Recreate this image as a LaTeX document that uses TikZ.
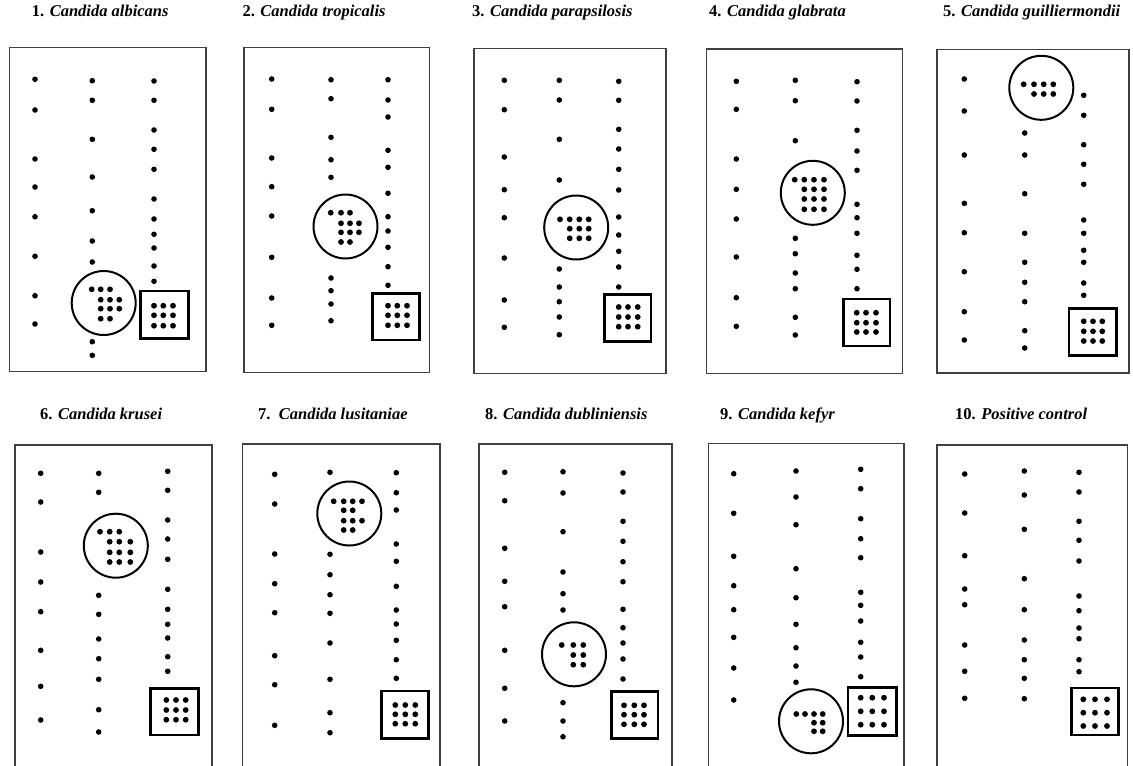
\documentclass[tikz,border=0pt]{standalone}
\usepackage{fontspec}
\setmainfont{Liberation Serif}
% a vertical run of spots at abscissa #1, ordinates #2
\newcommand\spotcol[2]{\foreach \yy in {#2}{\fill (#1,\yy) circle[radius=2.8];}}
% a list of spots given as x/y pairs
\newcommand\spots[1]{\foreach \xx/\yy in {#1}{\fill (\xx,\yy) circle[radius=2.9];}}
% 3x3 spots inside a plate
\newcommand\gridspots[2]{\foreach \xx in {#1}{\foreach \yy in {#2}{\fill (\xx,\yy) circle[radius=2.9];}}}
\begin{document}
\begin{tikzpicture}[x=1pt,y=-1pt,
  frame/.style={draw=black!75,line width=1.3pt},
  ring/.style={draw=black,line width=2pt},
  plate/.style={draw=black,line width=2.6pt},
  title/.style={anchor=base west,inner sep=0pt,font=\fontsize{16.5}{18}\selectfont\bfseries}]
\useasboundingbox (0,0) rectangle (1133,766);
\clip (0,0) rectangle (1133,766);

% ---------- titles ----------
\node[title] (t1)  at (31.7,16.5)  {1. \itshape Candida albicans};
\node[title] (t2)  at (242.3,16.5) {2. \itshape Candida tropicalis};
\node[title] (t3)  at (472,16.5)   {3. \itshape Candida parapsilosis};
\node[title] (t4)  at (709,16.5)   {4. \itshape Candida glabrata};
\node[title] (t5)  at (943,16.5)   {5. \itshape Candida guilliermondii};
\node[title] (t6)  at (40,419)     {6. \itshape Candida krusei};
\node[title] (t7)  at (258,419)    {7.\ \ \itshape Candida lusitaniae};
\node[title] (t8)  at (485,419)    {8. \itshape Candida dubliniensis};
\node[title] (t9)  at (720,419)    {9. \itshape Candida kefyr};
\node[title] (t10) at (955,419)    {10. \itshape Positive control};

% ---------- 1 ----------
\draw[frame] (9.3,47.3) rectangle (206,371.7);
\spotcol{35}{79.3,110,159,187,216.7,256.3,295.7,324}
\spotcol{92.3}{80.7,100.3,139.3,177,210.7,241,262,341.7,355.3}
\spotcol{154}{81,100.3,130,149.3,169.3,199,219,234.3,248,266,281.3}
\draw[ring] (103.7,303) circle[radius=32];
\spots{91.7/289.3,100.7/289.3,110/289.3,100.7/299.7,110/299.7,119.3/299.7,100.7/308.7,110/308.7,119.3/308.7,100.7/318.7,110/318.7}
\draw[plate] (140.3,291) rectangle (188.3,338.3);
\gridspots{154,163.3,173}{305.7,315.3,325.7}

% ---------- 2 ----------
\draw[frame] (244,47.3) rectangle (429.3,372.3);
\spotcol{271.7}{79,109.3,158,186.7,216,257.3,298,325.3}
\spotcol{331}{79.7,98.7,137.3,159.7,177.3,278,290.7,304,320.7}
\spotcol{388}{79.7,100,117,150.3,167.3,193.3,216.7,231,247.3,266.7,285.3}
\draw[ring] (345.5,226.5) circle[radius=32];
\spots{330.7/212.7,341/212.7,350/212.7,341/223.3,350/223.3,359/223.3,341/232.3,350/232.3,359/232.3,341/242,350/242}
\draw[plate] (372.3,293.3) rectangle (419.3,340);
\gridspots{388,397.3,407}{305.7,315.3,325.3}

% ---------- 3 ----------
\draw[frame] (474,48.3) rectangle (666,373.3);
\spotcol{504.3}{80.3,109.7,157,189.7,217.7,258,300,327.3}
\spotcol{559.3}{80.3,100,139.3,180,269,287,301.7,317,334.7}
\spotcol{618.7}{81.3,100.3,129.3,149,169.3,190,217,235,251.3,267,287}
\draw[ring] (576.2,227.5) circle[radius=32];
\spots{560/219.3,569.7/219.3,579.3/219.3,588.7/219.3,569.7/228.7,579.3/228.7,588.7/228.7,569.7/238.3,579.3/238.3,588.7/238.3}
\draw[plate] (604.3,294.3) rectangle (651,341.7);
\gridspots{618.7,628,637.7}{307,317,326.7}

% ---------- 4 ----------
\draw[frame] (706.7,49) rectangle (902.7,373.3);
\spotcol{736.3}{81.3,109.3,159,189.3,219,257,297.7,326.3}
\spotcol{795.3}{80.3,100.7,140.7,238.3,253.7,273,288.7,317.3,335}
\spotcol{857}{81.7,101,130.3,151,170.3,204.3,217.7,233.3,255.3,269.3,288.7}
\draw[ring] (812.8,192.8) circle[radius=32];
\spots{794.7/179.7,804.3/179.7,814/179.7,824/179.7,804.3/189.3,814/189.3,824/189.3,804.3/199,814/199,824/199,804.3/209.3,814/209.3,824/209.3}
\draw[plate] (843.3,299) rectangle (890,346);
\gridspots{856.7,866,876}{312.7,322.7,332}

% ---------- 5 ----------
\draw[frame] (937,49.3) rectangle (1129,373);
\spotcol{964.3}{79,111,155,203.3,232.7,271.7,311.7,340}
\spotcol{1024.7}{133,155,193.7,233.3,262.3,282.3,301.7,330.7,348}
\spotcol{1083.7}{95.3,115.3,144.7,164.3,184.3,220,233.3,250.3,262.3,283,295.3}
\draw[ring] (1041.3,87.8) circle[radius=32];
\spots{1023.7/84.3,1034/84.3,1043.7/84.3,1053.3/84.3,1034/94,1043.7/94,1053.3/94}
\draw[plate] (1069,308.7) rectangle (1116.7,355.7);
\gridspots{1083.7,1093,1102.3}{321.3,331.3,341}

% ---------- 6 ----------
\draw[frame] (15,445) rectangle (212,790);
\spotcol{40.7}{473.3,502,552,582,611.7,650.3,686.3,720}
\spotcol{98.7}{473.3,492.3,595.3,614.3,639,658.7,679.3,709.7,732}
\spotcol{167.7}{471.3,490.3,520,539,559.3,589.3,609.3,624.3,638,656.7,671.3}
\draw[ring] (115.8,545.7) circle[radius=32];
\spots{100/531.7,109.7/531.7,119.3/531.7,109.7/541.7,119.3/541.7,130.3/541.7,109.7/552.3,119.3/552.3,130.3/552.3,109.7/562,119.3/562,130.3/562}
\draw[plate] (150.7,688.3) rectangle (198.3,735);
\gridspots{166.3,176,185.7}{700,710,719.7}

% ---------- 7 ----------
\draw[frame] (242.3,444) rectangle (440,790);
\spotcol{274.7}{474.3,504,554,583.7,612.7,655.7,684.7,725.3}
\spotcol{330}{472.3,554.3,574.7,594.7,613.3,643,679.3,712.7,732.7}
\spotcol{396.3}{472.7,492.7,510,544,561.3,586.3,610,624,640.3,659.7,678.3}
\draw[ring] (349.3,513.5) circle[radius=32];
\spots{333.7/501.3,343.7/501.3,352.7/501.3,362/501.3,343.7/510.3,352.7/510.3,343.7/520.7,352.7/520.7,362/520.7,343.7/530,352.7/530}
\draw[plate] (381.7,691) rectangle (428.7,738.3);
\gridspots{395.3,405.3,415.3}{705,714.3,723.7}

% ---------- 8 ----------
\draw[frame] (479,444) rectangle (672,790);
\spotcol{504.7}{472.3,500.7,548.3,581.3,606.7,650.3,688.3,721}
\spotcol{563}{471.7,493,531.7,572,593.7,610,702.7,721,736.7}
\spotcol{623}{473,492,521.3,541.3,561.7,581.7,609.3,627.7,643,659,679}
\draw[ring] (574,654.3) circle[radius=32];
\spots{561.7/645,573.3/645,583.3/645,573.3/655,583.3/655,573.3/664.7,583.3/664.7}
\draw[plate] (611.3,691.7) rectangle (658,738.3);
\gridspots{624,634.3,644}{705.3,714.7,724.3}

% ---------- 9 ----------
\draw[frame] (708.3,443.3) rectangle (904,790);
\spotcol{733.7}{473.7,513.3,556.3,585.7,609.7,637.3,668,700}
\spotcol{796}{471,497,524.7,568.7,597.7,624.3,647.7,666,682.3}
\spotcol{860.7}{469.3,488.7,518.7,538.7,557.7,592.3,605.3,621,642.3,657,676.7}
\draw[ring] (811,721.3) circle[radius=32];
\spots{796.3/714,805/714,814/714,822.7/714,814/722.7,822.7/722.7,814/731.3,822.7/731.3}
\draw[plate] (848,687.7) rectangle (896.3,735.3);
\gridspots{860.7,872.3,884}{697.7,711.3,724.7}

% ---------- 10 ----------
\draw[frame] (937,445) rectangle (1127.7,790);
\spotcol{964.7}{474,513,555.7,589,604.7,645,671.3,698.3}
\spotcol{1024.3}{471,495,529.3,578.7,609.7,640,659.7,678.3,698.7}
\spotcol{1079}{472.3,492,521.3,540.3,561,596,610.7,628,638.7,659.7,671.7}
\draw[plate] (1071.3,688) rectangle (1118.3,735);
\gridspots{1083.3,1095,1107}{699.3,712.7,726}
\end{tikzpicture}
\end{document}
